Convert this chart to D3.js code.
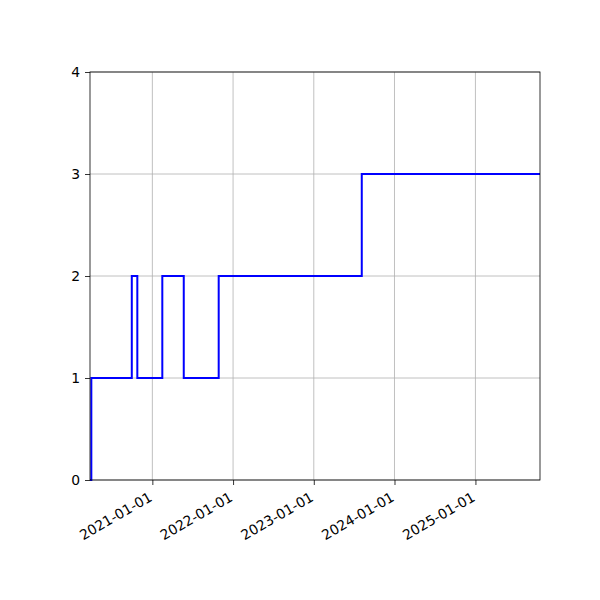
<!DOCTYPE html>
<html>
<head>
<meta charset="utf-8">
<script src="https://cdn.jsdelivr.net/npm/d3@7"></script>
<style>
body{margin:0;background:#fff;}
text{font-family:"DejaVu Sans",sans-serif;}
</style>
</head>
<body>
<div id="chart"></div>
<script>
const dates = ["2020-03-25","2020-03-31","2020-09-30","2020-10-25","2021-02-15","2021-05-23","2021-10-28","2023-08-06","2025-10-20"];
const counts = [0,1,2,1,2,1,2,3,3];
const xTicks = ["2021-01-01","2022-01-01","2023-01-01","2024-01-01","2025-01-01"];
const yTicks = [0,1,2,3,4];

const width = 600;
const height = 600;
const margin = {top:72,right:60,bottom:120,left:90};

const parse = d3.utcParse("%Y-%m-%d");
const data = dates.map((d,i)=>({date:parse(d),value:counts[i]}));

const svg = d3.select("#chart")
.append("svg")
.attr("width",width)
.attr("height",height);

const x = d3.scaleUtc()
.domain(d3.extent(data,d=>d.date))
.range([margin.left,width-margin.right]);

const y = d3.scaleLinear()
.domain([0,4])
.range([height-margin.bottom,margin.top]);

// grid
svg.append("g")
.selectAll("line")
.data(xTicks)
.enter()
.append("line")
.attr("x1",d=>x(parse(d)))
.attr("x2",d=>x(parse(d)))
.attr("y1",margin.top)
.attr("y2",height-margin.bottom)
.attr("stroke","#b0b0b0")
.attr("stroke-width",0.8);

svg.append("g")
.selectAll("line")
.data(yTicks)
.enter()
.append("line")
.attr("x1",margin.left)
.attr("x2",width-margin.right)
.attr("y1",d=>y(d))
.attr("y2",d=>y(d))
.attr("stroke","#b0b0b0")
.attr("stroke-width",0.8);

const line = d3.line()
.x(d=>x(d.date))
.y(d=>y(d.value))
.curve(d3.curveStepAfter);

svg.append("path")
.datum(data)
.attr("d",line)
.attr("fill","none")
.attr("stroke","blue")
.attr("stroke-width",2);

// axes
const xAxis = svg.append("g")
.attr("transform",`translate(0,${height-margin.bottom})`)
.call(d3.axisBottom(x).tickValues(xTicks.map(parse)).tickFormat(d3.utcFormat("%Y-%m-%d")).tickSizeOuter(0).tickSize(5).tickPadding(3));

xAxis.selectAll("text")
.attr("font-size",13.9)
.attr("font-family","DejaVu Sans")
.style("text-anchor","end")
.attr("dy",null)
.attr("y",null)
.attr("transform","translate(-5,11) rotate(-30)")
.attr("dominant-baseline","hanging");

const yAxis = svg.append("g")
.attr("transform",`translate(${margin.left},0)`)
.call(d3.axisLeft(y).tickValues(yTicks).tickFormat(d3.format("d")).tickSizeOuter(0).tickSize(5).tickPadding(5));

yAxis.selectAll("text")
.attr("font-size",13.9)
.attr("font-family","DejaVu Sans");

svg.selectAll(".domain").remove();
svg.selectAll(".tick line").attr("stroke","#000").attr("stroke-width",0.8);

svg.append("rect")
.attr("x",margin.left)
.attr("y",margin.top)
.attr("width",width-margin.left-margin.right)
.attr("height",height-margin.top-margin.bottom)
.attr("fill","none")
.attr("stroke","#000")
.attr("stroke-width",0.8);
</script>
</body>
</html>
